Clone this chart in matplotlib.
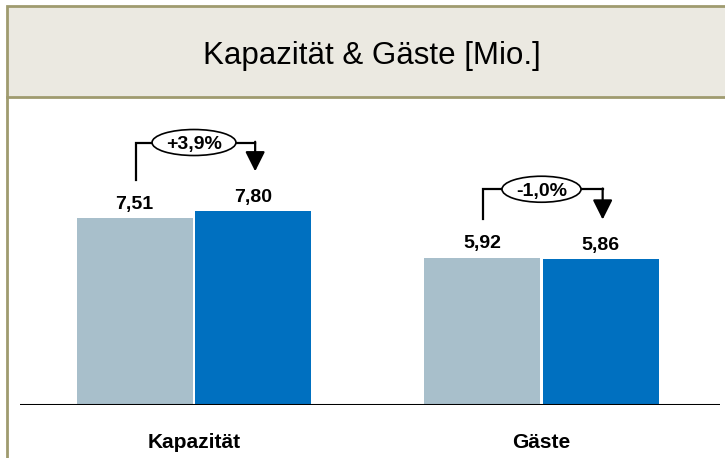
import matplotlib.pyplot as plt
from matplotlib.patches import Rectangle, Ellipse
import numpy as np

plt.rcParams['font.family'] = ['Liberation Sans', 'DejaVu Sans']

# data
categories = ["Kapazität", "Gäste"]
prev_values = [7.51, 5.92]
curr_values = [7.80, 5.86]
changes = ["+3,9%", "-1,0%"]

light = "#a8bfcb"
dark = "#0070c0"
frame = "#9f9b6f"

W, H = 725, 458
fig = plt.figure(figsize=(W / 100, H / 100), dpi=100)

# frame and title band (figure pixel coords -> fractions)
def fx(px):
    return px / W

def fy(py):
    return 1 - py / H

fig.patches.append(Rectangle((fx(7), fy(97)), 1, fy(6) - fy(97), transform=fig.transFigure,
                             facecolor="#ebe9e1", edgecolor=frame, linewidth=2, zorder=0))
fig.lines.append(plt.Line2D([fx(7), fx(7)], [0, fy(97)], transform=fig.transFigure,
                            color=frame, linewidth=2))
fig.text(fx(372), fy(64), "Kapazität & Gäste [Mio.]", ha="center", va="baseline",
         fontsize=22.5, color="black")

# bars axes
ax = fig.add_axes([fx(20), fy(405), fx(720) - fx(20), fy(100) - fy(405)])
x = np.arange(len(categories))
bw = 0.334
off = 0.171
ax.bar(x - off, prev_values, width=bw, color=light, zorder=2)
ax.bar(x + off, curr_values, width=bw, color=dark, zorder=2)
ax.set_xlim(-0.5007, 1.5137)
ax.set_ylim(0, 12.27)
ax.axis("off")
ax.axhline(0, color="black", linewidth=2.2, zorder=3)

px_x = 347.5  # pixels per x unit
px_y = 24.85  # pixels per y unit

labels = []
for i in range(len(categories)):
    a, b = prev_values[i], curr_values[i]
    ax.text(x[i] - off, a + 0.38, f"{a:.2f}".replace(".", ","), ha="center", va="baseline",
            fontsize=14, fontweight="bold")
    ax.text(x[i] + off, b + 0.38, f"{b:.2f}".replace(".", ","), ha="center", va="baseline",
            fontsize=14, fontweight="bold")
    top = max(a, b) + 2.76
    x0, x1 = x[i] - off + 0.003, x[i] + off + 0.005
    ax.plot([x0, x0, x1], [a + 1.55, top, top], color="black", linewidth=1.6,
            solid_joinstyle="miter", zorder=4)
    ax.annotate("", xy=(x1, b + 1.6), xytext=(x1, top + 0.03),
                arrowprops=dict(arrowstyle="-|>,head_length=1.2,head_width=0.6",
                                color="black", linewidth=1.6, shrinkA=0, shrinkB=0),
                zorder=4)
    t = ax.text(x[i], top - 6.5 / px_y, changes[i], ha="center", va="baseline",
                fontsize=14, fontweight="bold", zorder=6)
    labels.append((t, x[i], top))
    ax.text(x[i], -43 / px_y, categories[i], ha="center", va="baseline", fontsize=15,
            fontweight="bold")

# ellipses sized to the change labels
fig.canvas.draw()
renderer = fig.canvas.get_renderer()
for t, cx, cy in labels:
    tw = t.get_window_extent(renderer).width
    ax.add_patch(Ellipse((cx, cy), (tw + 28) / px_x, 26 / px_y, facecolor="white",
                         edgecolor="black", linewidth=1.2, zorder=5))

fig.savefig("out.png", dpi=100)
